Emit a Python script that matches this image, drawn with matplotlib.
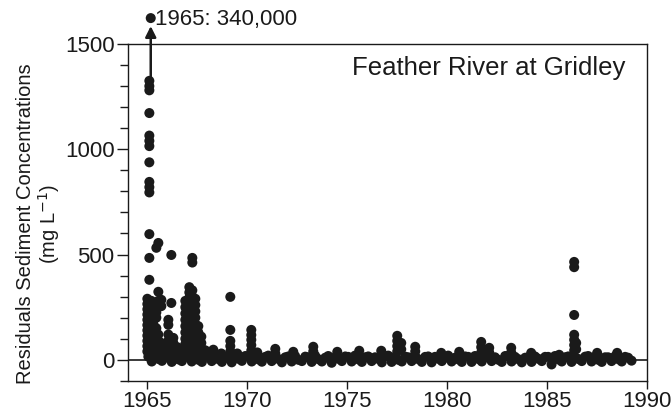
"""Residual sediment concentrations, Feather River at Gridley (1965-1990)."""

import matplotlib
matplotlib.use("Agg")
import matplotlib.pyplot as plt
from matplotlib.ticker import MultipleLocator

# background band of small residuals, 6 samples per year
BASE_YEARS = list(range(1965, 1990))
SAMPLE_OFFSETS = [0.05, 0.22, 0.39, 0.56, 0.73, 0.9]
base_vals = [
    [15, -8, 20, 4, -5, 12],    # 1965
    [10, -10, 18, 2, -6, 14],   # 1966
    [22, -8, 12, 0, -10, 16],   # 1967
    [14, -6, 18, 3, -10, 10],   # 1968
    [10, -12, 16, 5, -5, 18],   # 1969
    [18, -8, 12, 2, -9, 14],    # 1970
    [20, -6, 10, 4, -12, 12],   # 1971
    [16, -8, 18, 0, -6, 15],    # 1972
    [12, -10, 20, 3, -8, 10],   # 1973
    [18, -14, 12, 5, -6, 16],   # 1974
    [14, -8, 20, 2, -10, 12],   # 1975
    [16, -6, 12, 4, -12, 18],   # 1976
    [20, -10, 14, 0, -8, 15],   # 1977
    [12, -6, 18, 3, -10, 14],   # 1978
    [16, -12, 14, 5, -6, 10],   # 1979
    [20, -8, 10, 2, -10, 16],   # 1980
    [14, -10, 18, 4, -8, 12],   # 1981
    [16, -6, 12, 0, -10, 18],   # 1982
    [18, -8, 14, 3, -12, 10],   # 1983
    [12, -10, 16, 5, -6, 14],   # 1984
    [14, -22, 18, 2, -8, 12],   # 1985
    [16, -10, 12, 4, -6, 15],   # 1986
    [18, -8, 14, 0, -10, 12],   # 1987
    [12, -6, 16, 3, -8, 14],    # 1988
    [10, -4],                   # 1989
]

# storm events: sample date and the residuals stacked at that date
event_t = [1965.1, 1965.0, 1965.2, 1965.3, 1965.45, 1965.55, 1965.7, 1966.05,
           1966.2, 1966.3, 1966.5, 1966.9, 1967.1, 1967.25, 1967.4, 1967.55,
           1967.7, 1967.9, 1968.3, 1968.7, 1969.15, 1969.5, 1970.2, 1970.5,
           1971.4, 1972.3, 1973.3, 1974.5, 1975.6, 1976.7, 1977.5, 1977.7,
           1978.4, 1979.7, 1980.6, 1981.7, 1982.1, 1983.2, 1984.2, 1985.6,
           1986.35, 1986.45, 1987.5, 1988.5]
event_v = [
    [1325, 1300, 1280, 1172, 1065, 1040, 1015, 938, 845, 820, 795, 597, 484, 380],
    [290, 265, 240, 215, 190, 165, 140, 115, 90, 65, 40],
    [280, 250, 220, 195, 170, 145, 120, 95, 70, 45],
    [260, 230, 200, 170, 140, 110, 80, 55, 30],
    [532, 225, 200, 150, 100, 75, 50],
    [555, 323, 280, 255, 120, 90, 60, 35],
    [285, 255, 80, 55, 30],
    [190, 166, 120, 90, 60, 35],
    [498, 270, 104, 80, 55],
    [104, 80, 55, 30],
    [60, 35],
    [280, 250, 220, 190, 160, 130, 100, 75, 50, 25],
    [345, 320, 295, 265, 235, 205, 175, 145, 115, 90, 65, 40],
    [484, 462, 330, 300, 270, 240, 210, 180, 150, 125, 100, 75, 50],
    [290, 260, 230, 200, 170, 140, 110, 80, 55, 30],
    [160, 130, 100, 75, 50],
    [110, 80, 55, 30],
    [45, 25],
    [48, 25],
    [30],
    [299, 142, 90, 65, 40, 20],
    [30],
    [142, 118, 95, 70, 45, 25],
    [35],
    [52, 30],
    [38],
    [62, 40],
    [38],
    [43],
    [43],
    [114, 90, 65, 40],
    [80, 50],
    [62, 40],
    [33],
    [38],
    [85, 60, 35],
    [57, 35],
    [57, 35],
    [33],
    [24],
    [465, 440, 213, 119, 95, 70, 45],
    [80, 50],
    [33],
    [33],
]

# off-scale value, annotated above the axes
outlier_t = 1965.17
outlier_plot_v = 1623
outlier_label = "1965: 340,000"

INK = "#1a1a1a"
DOT = 52


def main():
    plt.rcParams["font.family"] = ["Liberation Sans", "DejaVu Sans"]
    fig = plt.figure(figsize=(6.72, 4.19), dpi=100)
    ax = fig.add_axes([0.191, 0.091, 0.772, 0.804])

    xs, ys = [], []
    for yr, vals in zip(BASE_YEARS, base_vals):
        for off, v in zip(SAMPLE_OFFSETS, vals):
            xs.append(yr + off)
            ys.append(v)
    for t, vals in zip(event_t, event_v):
        for v in vals:
            xs.append(t)
            ys.append(v)

    ax.axhline(0, color=INK, lw=1.2, zorder=1)
    ax.scatter(xs, ys, s=DOT, color=INK, edgecolors="none", zorder=2)

    # outlier dot + arrow pointing off the top of the plot
    ax.scatter([outlier_t], [outlier_plot_v], s=DOT, color=INK,
               edgecolors="none", clip_on=False, zorder=3)
    ax.annotate("", xy=(outlier_t, 1585), xytext=(outlier_t, 1345),
                arrowprops=dict(arrowstyle="-|>", color=INK, lw=1.8,
                                mutation_scale=16, shrinkA=0, shrinkB=0),
                annotation_clip=False)
    ax.text(outlier_t + 0.22, outlier_plot_v - 5, outlier_label, fontsize=16,
            color=INK, ha="left", va="center", clip_on=False)

    ax.text(0.958, 0.93, "Feather River at Gridley", transform=ax.transAxes,
            fontsize=18.5, color=INK, ha="right", va="center")

    ax.set_xlim(1964.05, 1990)
    ax.set_ylim(-100, 1500)
    ax.set_xticks([1965, 1970, 1975, 1980, 1985, 1990])
    ax.set_yticks([0, 500, 1000, 1500])
    ax.yaxis.set_minor_locator(MultipleLocator(100))
    ax.tick_params(axis="both", which="major", direction="out",
                   width=1, labelsize=16, colors=INK)
    ax.tick_params(axis="x", which="major", length=6, pad=1.5)
    ax.tick_params(axis="y", which="major", length=8, pad=2)
    ax.tick_params(axis="y", which="minor", direction="out", length=6,
                   width=1, colors=INK)
    for sp in ax.spines.values():
        sp.set_color(INK)
        sp.set_linewidth(1.0)

    fig.text(0.058, 0.465, "Residuals Sediment Concentrations\n(mg L$^{-1}$)",
             rotation=90, ha="center", va="center", fontsize=14.5,
             color=INK, multialignment="center", linespacing=1.1)

    fig.savefig("out.png", dpi=100)
    plt.close(fig)


if __name__ == "__main__":
    main()
